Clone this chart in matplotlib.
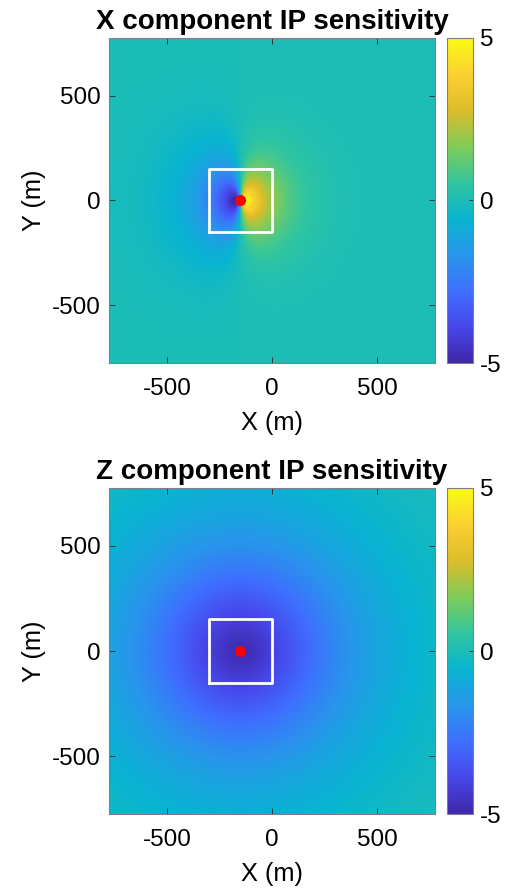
import numpy as np
import matplotlib
matplotlib.use("Agg")
import matplotlib.pyplot as plt
from matplotlib.colors import LinearSegmentedColormap

plt.rcParams['font.family'] = ['Liberation Sans', 'DejaVu Sans']
plt.rcParams['axes.unicode_minus'] = False

# ---- data / parameters ----
titles = ["X component IP sensitivity", "Z component IP sensitivity"]
xlabel = "X (m)"
ylabel = "Y (m)"
extent_m = 775                      # half-width of the mapped area
grid_n = 501                        # grid nodes per axis
source_x, source_y = -150.0, 0.0    # red dot
box_x = [-300, 0, 0, -300, -300]    # white square outline
box_y = [-150, -150, 150, 150, -150]
ticks = [-500, 0, 500]
cbar_ticks = [-5, 0, 5]
clim = (-5, 5)

# X component: two lobes of opposite sign split along x = source_x
x_amp_pos, x_len_pos = 6.6, 125.0
x_amp_neg, x_len_neg = 6.6, 140.0
x_split_width, x_split_growth = 10.0, 0.25
# Z component: negative bowl centred on the source
z_amp, z_len, z_pow = 4.8, 510.0, 1.5

# parula colormap anchors (10 samples)
parula_pts = [
    [0.2422, 0.1504, 0.6603],
    [0.2803, 0.2782, 0.9221],
    [0.2440, 0.4358, 0.9988],
    [0.1540, 0.5902, 0.9218],
    [0.0297, 0.7082, 0.8163],
    [0.1938, 0.7758, 0.6251],
    [0.5044, 0.7993, 0.3480],
    [0.8634, 0.7406, 0.1596],
    [0.9892, 0.8136, 0.1885],
    [0.9769, 0.9839, 0.0805],
]
parula = LinearSegmentedColormap.from_list("parula", parula_pts, N=256)

# ---- fields ----
g = np.linspace(-extent_m, extent_m, grid_n)
GX, GY = np.meshgrid(g, g)
U = GX - source_x
V = GY - source_y
R = np.sqrt(U**2 + V**2)
split = np.tanh(U / (x_split_width + x_split_growth * R))
field_x = np.where(U >= 0,
                   x_amp_pos * split * np.exp(-R / x_len_pos),
                   x_amp_neg * split * np.exp(-R / x_len_neg))
field_z = -z_amp * np.exp(-(R / z_len) ** z_pow)
fields = [field_x, field_z]

# ---- figure ----
W, H = 506, 888
fig = plt.figure(figsize=(W / 100, H / 100), dpi=100)

ax_rows = [(38, 363), (488, 814)]   # top / bottom pixel rows of the axes
ax_left, ax_right = 109, 435
cb_left, cb_right = 447, 473

for (top, bot), fld, ttl in zip(ax_rows, fields, titles):
    ax = fig.add_axes([ax_left / W, (H - bot) / H,
                       (ax_right - ax_left) / W, (bot - top) / H])
    im = ax.imshow(fld, extent=[-extent_m, extent_m, -extent_m, extent_m],
                   origin='lower', cmap=parula, vmin=clim[0], vmax=clim[1],
                   interpolation='bilinear', aspect='auto')
    ax.plot(box_x, box_y, color='white', lw=2.0)
    ax.plot([source_x], [source_y], 'o', color='red', ms=7, mec='red')
    ax.set_xlim(-extent_m, extent_m)
    ax.set_ylim(-extent_m, extent_m)
    ax.set_xticks(ticks)
    ax.set_yticks(ticks)
    ax.tick_params(direction='in', labelsize=17.5, length=4, width=0.6,
                   color='#262626', top=True, right=True)
    ax.tick_params(axis='x', pad=11)
    ax.tick_params(axis='y', pad=6)
    for s in ax.spines.values():
        s.set_color('#808080')
        s.set_linewidth(0.8)
    ax.set_xlabel(xlabel, fontsize=18.3, labelpad=8)
    ax.set_ylabel(ylabel, fontsize=18.3, labelpad=4)
    ax.set_title(ttl, fontsize=20, fontweight='bold', pad=6.5)

    cax = fig.add_axes([cb_left / W, (H - bot) / H,
                        (cb_right - cb_left) / W, (bot - top) / H])
    cb = fig.colorbar(im, cax=cax, ticks=cbar_ticks)
    cb.ax.tick_params(direction='in', labelsize=17.5, length=3, width=0.6,
                      color='#262626', pad=5)
    cb.outline.set_edgecolor('#808080')
    cb.outline.set_linewidth(0.8)

fig.savefig("out.png", dpi=100)
